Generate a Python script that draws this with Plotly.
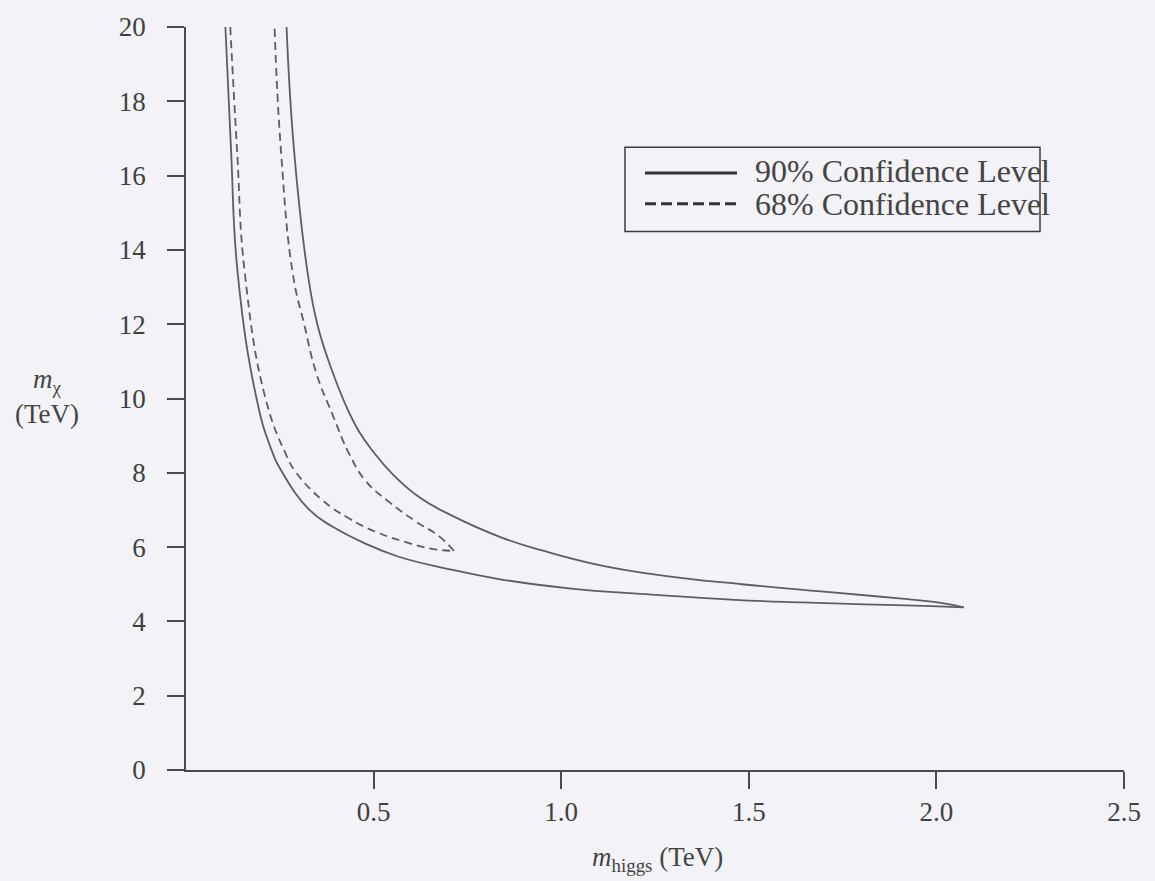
import plotly.graph_objects as go

# ---------------- data ----------------
# 90% confidence contour, lower-left branch (top -> tip)
cl90_lo_x = [0.105, 0.120, 0.138, 0.188, 0.224, 0.258, 0.329, 0.389, 0.477,
             0.567, 0.700, 0.834, 1.020, 1.241, 1.462, 1.641, 1.809, 1.987, 2.073]
cl90_lo_y = [20.0, 16.7, 13.35, 10.0, 8.72, 7.99, 7.00, 6.56, 6.10,
             5.74, 5.41, 5.14, 4.89, 4.72, 4.58, 4.51, 4.46, 4.41, 4.38]
# 90% confidence contour, upper-right branch (tip -> top)
cl90_up_x = [2.073, 1.988, 1.900, 1.700, 1.481, 1.287, 1.108, 0.949, 0.843, 0.702,
             0.622, 0.551, 0.498, 0.462, 0.428, 0.386, 0.350, 0.325, 0.288, 0.268]
cl90_up_y = [4.38, 4.53, 4.62, 4.80, 5.00, 5.21, 5.50, 5.91, 6.25, 6.88,
             7.34, 7.96, 8.58, 9.10, 9.77, 10.84, 12.0, 13.33, 16.68, 20.0]

# 68% confidence contour, lower-left branch (top -> tip)
cl68_lo_x = [0.118, 0.136, 0.157, 0.212, 0.264, 0.292, 0.364, 0.435, 0.504,
             0.584, 0.656, 0.714]
cl68_lo_y = [20.0, 16.7, 13.35, 10.0, 8.55, 8.03, 7.26, 6.77, 6.42,
             6.14, 5.95, 5.90]
# 68% confidence contour, upper-right branch (tip -> top)
cl68_up_x = [0.714, 0.675, 0.611, 0.542, 0.479, 0.435, 0.390, 0.348, 0.315,
             0.285, 0.253, 0.236]
cl68_up_y = [5.90, 6.29, 6.70, 7.21, 7.78, 8.51, 9.58, 10.66, 12.0,
             13.34, 16.68, 20.0]

series_names = ["90% Confidence Level", "68% Confidence Level"]

x_tickvals = [0.5, 1.0, 1.5, 2.0, 2.5]
x_ticktext = ["0.5", "1.0", "1.5", "2.0", "2.5"]
y_tickvals = [0, 2, 4, 6, 8, 10, 12, 14, 16, 18, 20]
y_ticktext = ["0", "2", "4", "6", "8", "10", "12", "14", "16", "18", "20"]

# ---------------- styling / layout ----------------
BG = "#f2f2f7"
INK = "#4a4a4a"
CURVE = "#5e5e5e"
TEXT = "#444444"
FONT = "Liberation Serif"

W, H = 1155, 881
ML, MR, MT, MB = 186, 31, 22, 111
PW, PH = W - ML - MR, H - MT - MB


def px(xp):
    return (xp - ML) / PW


def py(yp):
    return (H - MB - yp) / PH


fig = go.Figure()
branches = [
    (cl90_lo_x, cl90_lo_y, 0, "solid"),
    (cl90_up_x, cl90_up_y, 0, "solid"),
    (cl68_lo_x, cl68_lo_y, 1, "8px,5px"),
    (cl68_up_x, cl68_up_y, 1, "8px,5px"),
]
for bx, by, k, dash in branches:
    fig.add_trace(go.Scatter(
        x=bx, y=by, mode="lines", name=series_names[k], legendgroup=series_names[k],
        line=dict(color=CURVE, width=1.8, dash=dash, shape="spline", smoothing=1.3),
        showlegend=False))

shapes = [
    # legend frame
    dict(type="rect", xref="paper", yref="paper", x0=px(625), x1=px(1040),
         y0=py(228), y1=py(143), line=dict(color="#3c3c3c", width=1.5)),
    # legend samples
    dict(type="line", xref="paper", yref="paper", x0=px(645), x1=px(737),
         y0=py(169), y1=py(169), line=dict(color="#333333", width=3)),
    dict(type="line", xref="paper", yref="paper", x0=px(645), x1=px(737),
         y0=py(200), y1=py(200), line=dict(color="#333333", width=3, dash="11px,5px")),
]

annotations = [
    dict(text=series_names[0], xref="paper", yref="paper", x=px(753), y=py(167),
         xanchor="left", yanchor="middle", showarrow=False,
         font=dict(family=FONT, size=32, color=TEXT)),
    dict(text=series_names[1], xref="paper", yref="paper", x=px(753), y=py(200),
         xanchor="left", yanchor="middle", showarrow=False,
         font=dict(family=FONT, size=32, color=TEXT)),
    # axis titles
    dict(text="<i>m</i><sub>higgs</sub> (TeV)", xref="paper", yref="paper",
         x=px(657), y=py(860), xanchor="center", yanchor="middle", showarrow=False,
         font=dict(family=FONT, size=27, color=TEXT)),
    dict(text="<i>m</i><sub>χ</sub><br>(TeV)", xref="paper", yref="paper",
         x=px(47), y=py(394), xanchor="center", yanchor="middle", showarrow=False,
         font=dict(family=FONT, size=27, color=TEXT)),
]

axis_common = dict(showgrid=False, zeroline=False, showline=True, linecolor=INK,
                   linewidth=1.6, ticks="outside", tickcolor=INK, tickwidth=1.6,
                   ticklen=17, tickfont=dict(family=FONT, size=27, color="#404040"))

fig.update_layout(
    width=W, height=H,
    margin=dict(l=ML, r=MR, t=MT, b=MB),
    paper_bgcolor=BG, plot_bgcolor=BG,
    xaxis=dict(range=[0, 2.5], tickmode="array", tickvals=x_tickvals,
               ticktext=x_ticktext, ticklabelstandoff=0, **axis_common),
    yaxis=dict(range=[0, 20], tickmode="array", tickvals=y_tickvals,
               ticktext=y_ticktext, ticklabelstandoff=16, **axis_common),
    shapes=shapes, annotations=annotations,
    showlegend=False,
)

fig.write_html("out.html", include_plotlyjs=True, full_html=True,
               config={"displayModeBar": False})
